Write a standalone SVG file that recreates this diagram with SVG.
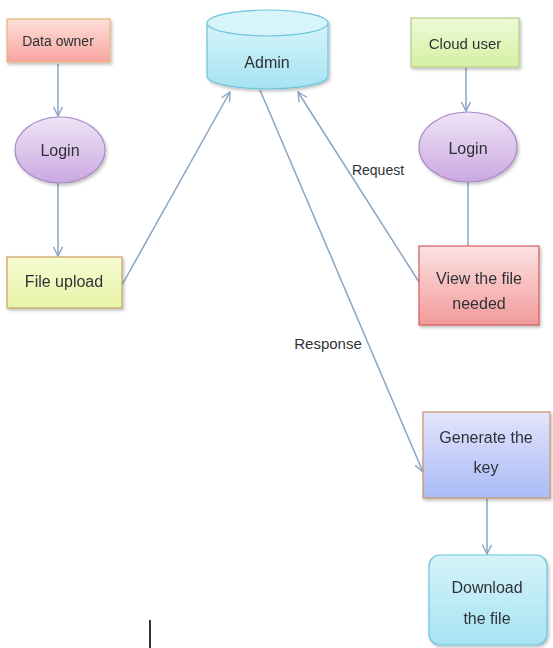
<svg xmlns="http://www.w3.org/2000/svg" width="553" height="648" viewBox="0 0 553 648">
  <style>
    .lbl { font-family: "Liberation Sans", "Open Sans", Arial, sans-serif; fill: #2f3236; text-anchor: middle; dominant-baseline: central; }
    .n16 { font-size: 16px; }
    .n15 { font-size: 15px; }
    .n14 { font-size: 14px; }
    .conn { stroke: #8aa4c4; stroke-width: 1.5; fill: none; marker-end: url(#vee); }
    .conn-plain { stroke: #8aa4c4; stroke-width: 1.5; fill: none; }
  </style>
  <defs>
    <marker id="vee" viewBox="0 0 12 12" refX="11" refY="6" markerWidth="11" markerHeight="11" markerUnits="userSpaceOnUse" orient="auto">
      <path d="M1,1 L11,6 L1,11" fill="none" stroke="#8aa4c4" stroke-width="1.5"/>
    </marker>
    <filter id="shadow" x="-10%" y="-10%" width="125%" height="130%">
      <feDropShadow dx="1.5" dy="2" stdDeviation="1.5" flood-color="#000" flood-opacity="0.25"/>
    </filter>
    <linearGradient id="gPink" x1="0" y1="0" x2="0" y2="1">
      <stop offset="0" stop-color="#fde0d8"/>
      <stop offset="1" stop-color="#f7a4a0"/>
    </linearGradient>
    <linearGradient id="gCyan" x1="0" y1="0" x2="0" y2="1">
      <stop offset="0" stop-color="#d6f4fa"/>
      <stop offset="1" stop-color="#a6e2f2"/>
    </linearGradient>
    <linearGradient id="gGreen" x1="0" y1="0" x2="0" y2="1">
      <stop offset="0" stop-color="#eefad6"/>
      <stop offset="1" stop-color="#d4f0a4"/>
    </linearGradient>
    <linearGradient id="gLilac" x1="0" y1="0" x2="0" y2="1">
      <stop offset="0" stop-color="#efe4f6"/>
      <stop offset="1" stop-color="#caa8e0"/>
    </linearGradient>
    <linearGradient id="gYellow" x1="0" y1="0" x2="0" y2="1">
      <stop offset="0" stop-color="#f6fcd2"/>
      <stop offset="1" stop-color="#e6f4a8"/>
    </linearGradient>
    <linearGradient id="gRed" x1="0" y1="0" x2="0" y2="1">
      <stop offset="0" stop-color="#fde2e2"/>
      <stop offset="1" stop-color="#f29a9a"/>
    </linearGradient>
    <linearGradient id="gBlue" x1="0" y1="0" x2="0" y2="1">
      <stop offset="0" stop-color="#e4e4fc"/>
      <stop offset="1" stop-color="#a8bcf6"/>
    </linearGradient>
  </defs>

  <rect width="553" height="648" fill="#ffffff"/>

  <!-- connectors -->
  <g id="connectors">
    <line class="conn" x1="58" y1="64" x2="58" y2="116"/>
    <line class="conn" x1="58" y1="183" x2="58" y2="256"/>
    <line class="conn" x1="122" y1="285" x2="230" y2="92"/>
    <line class="conn" x1="466" y1="68" x2="466" y2="111"/>
    <line class="conn-plain" x1="468" y1="182" x2="468" y2="246"/>
    <line class="conn" x1="419" y1="282" x2="298" y2="92"/>
    <line class="conn" x1="260" y1="90" x2="423" y2="472"/>
    <line class="conn" x1="487" y1="499" x2="487" y2="554"/>
    <text class="lbl n14" x="378" y="170">Request</text>
    <text class="lbl n15" x="328" y="343">Response</text>
  </g>

  <!-- nodes -->
  <g id="data-owner" filter="url(#shadow)">
    <rect x="7" y="19" width="103" height="43" fill="url(#gPink)" stroke="#e8b878" stroke-width="1.2"/>
    <text class="lbl n14" x="58" y="41">Data owner</text>
  </g>

  <g id="login-owner" filter="url(#shadow)">
    <ellipse cx="60" cy="150" rx="45" ry="33" fill="url(#gLilac)" stroke="#a888c4" stroke-width="1.2"/>
    <text class="lbl n16" x="60" y="150">Login</text>
  </g>

  <g id="file-upload" filter="url(#shadow)">
    <rect x="7" y="257" width="115" height="51" fill="url(#gYellow)" stroke="#c8a060" stroke-width="1.2"/>
    <text class="lbl n16" x="64" y="281">File upload</text>
  </g>

  <g id="admin" filter="url(#shadow)">
    <path d="M207,23 L207,76 A60.5,13 0 0 0 328,76 L328,23" fill="url(#gCyan)" stroke="#6cc4dc" stroke-width="1.2"/>
    <ellipse cx="267.5" cy="23" rx="60.5" ry="13" fill="#d8f4fb" stroke="#6cc4dc" stroke-width="1.2"/>
    <text class="lbl n16" x="267" y="62">Admin</text>
  </g>

  <g id="cloud-user" filter="url(#shadow)">
    <rect x="411" y="18" width="108" height="49" fill="url(#gGreen)" stroke="#b8cc88" stroke-width="1.2"/>
    <text class="lbl n15" x="465" y="43">Cloud user</text>
  </g>

  <g id="login-user" filter="url(#shadow)">
    <ellipse cx="468" cy="147" rx="49" ry="35" fill="url(#gLilac)" stroke="#a888c4" stroke-width="1.2"/>
    <text class="lbl n16" x="468" y="148">Login</text>
  </g>

  <g id="view-file" filter="url(#shadow)">
    <rect x="419" y="246" width="120" height="79" fill="url(#gRed)" stroke="#d45c5c" stroke-width="1.2"/>
    <text class="lbl n16" x="479" y="278">View the file</text>
    <text class="lbl n16" x="479" y="303">needed</text>
  </g>

  <g id="generate-key" filter="url(#shadow)">
    <rect x="423" y="412" width="127" height="86" fill="url(#gBlue)" stroke="#c89468" stroke-width="1.2"/>
    <text class="lbl n16" x="486" y="437">Generate the</text>
    <text class="lbl n16" x="486" y="467">key</text>
  </g>

  <g id="download-file" filter="url(#shadow)">
    <rect x="429" y="555" width="118" height="90" rx="11" ry="11" fill="url(#gCyan)" stroke="#6cc4dc" stroke-width="1.2"/>
    <text class="lbl n16" x="487" y="587">Download</text>
    <text class="lbl n16" x="487" y="618">the file</text>
  </g>

  <!-- stray text cursor mark -->
  <line x1="150" y1="620" x2="150" y2="648" stroke="#333333" stroke-width="2"/>
</svg>
